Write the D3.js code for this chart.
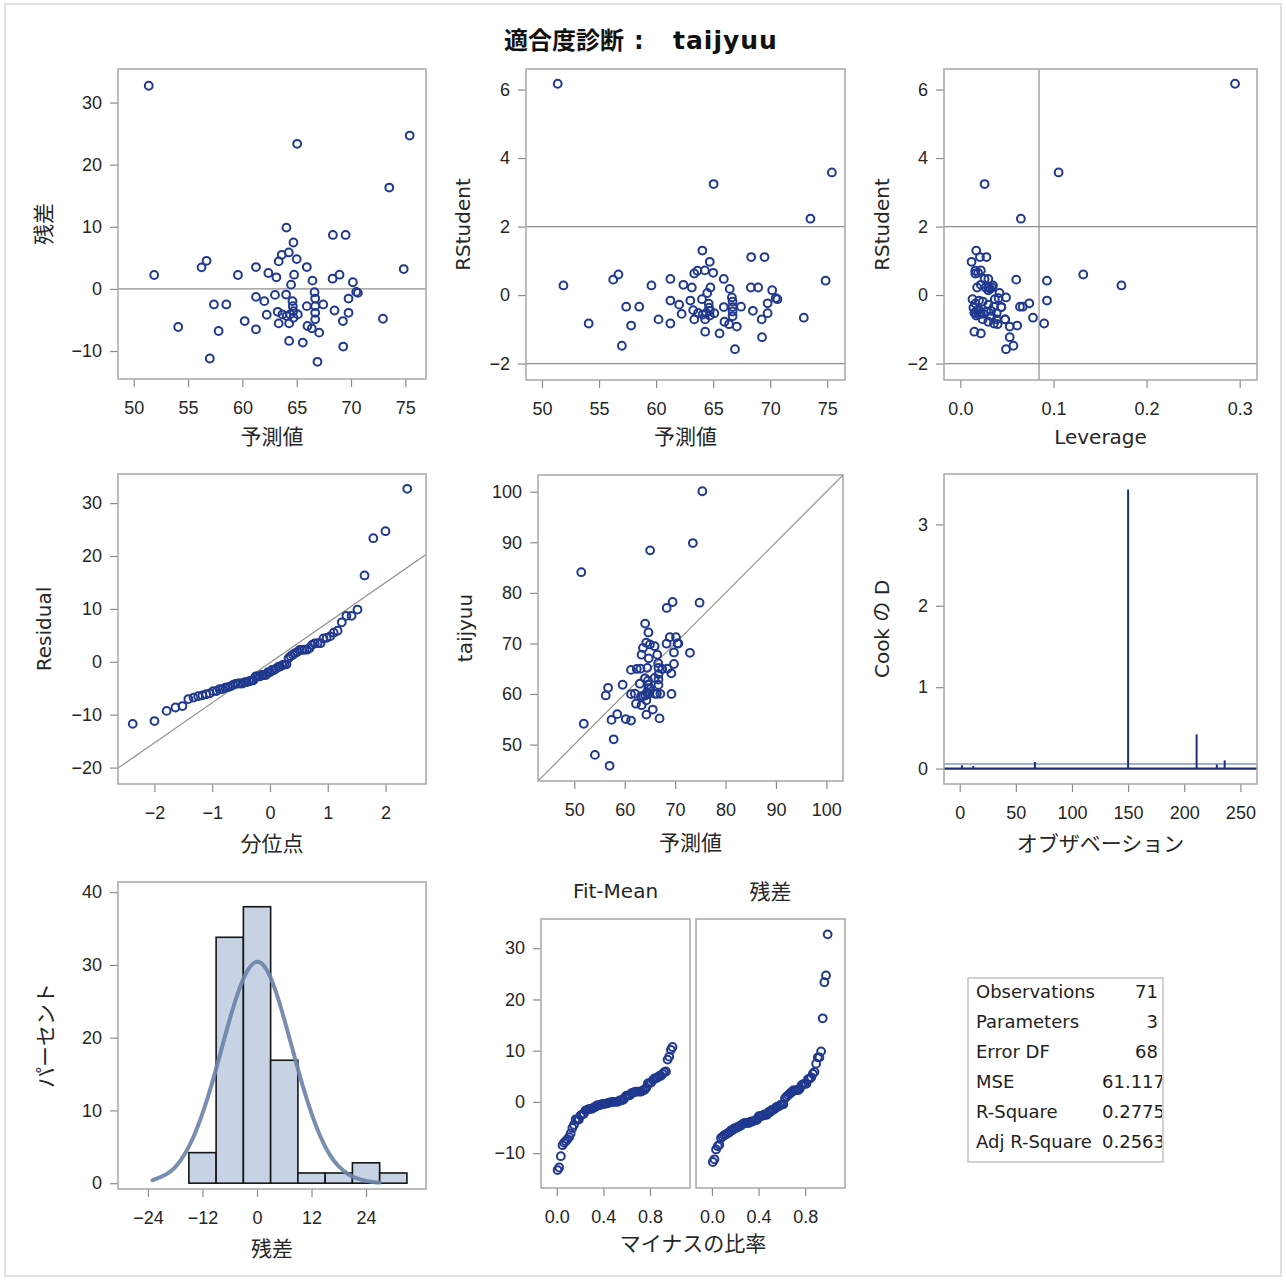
<!DOCTYPE html>
<html>

<head>
    <meta charset="utf-8">
    <style>
        body {
            margin: 0;
            background: #fff;
        }

        svg {
            display: block;
            font-family: 'DejaVu Sans', 'Noto Sans CJK JP', sans-serif;
        }

        .tick text {
            font-size: 18px;
            fill: #262626;
        }

        .tick line {
            stroke: #8c8c8c;
            stroke-width: 1.2;
        }

        .domain {
            display: none;
        }

        .frame {
            fill: none;
            stroke: #a6a6a6;
            stroke-width: 1.5;
        }

        .lab {
            font-size: 20px;
            fill: #262626;
        }

        .jp {
            font-family: 'Noto Sans CJK JP', sans-serif;
            font-size: 21px;
        }

        .pt {
            fill: none;
            stroke: #20398f;
            stroke-width: 2;
        }

        .ref {
            fill: none;
            stroke: #8f8f8f;
            stroke-width: 1.2;
        }
    </style>
</head>

<body>
    <svg width="1286" height="1280"></svg>

    <script src="https://d3js.org/d3.v7.min.js"></script>

    <script>
        let predicted = [51.38, 51.88, 54.09, 56.24, 56.70, 57.38, 58.52, 57.00, 57.81, 59.59,
            60.21, 61.25, 61.25, 61.25, 62.02, 62.24, 62.39, 63.00, 63.13, 63.34,
            63.62, 63.25, 63.34, 63.68, 64.05, 64.02, 64.27, 64.48, 64.30, 64.30,
            64.70, 64.76, 65.00, 65.04, 64.61, 64.64, 64.70, 64.39, 64.08, 64.70,
            65.10, 65.56, 65.93, 65.93, 65.99, 66.45, 66.39, 66.64, 66.70, 66.70,
            66.70, 66.70, 66.91, 67.07, 67.44, 68.33, 68.30, 68.48, 68.94, 69.50,
            69.25, 69.28, 69.77, 69.77, 70.17, 70.48, 70.63, 72.94, 73.52, 74.85, 75.40];

        let residual = [32.7, 2.24, -6.13, 3.47, 4.53, -2.5, -2.5, -11.2, -6.77, 2.24,
            -5.17, 3.52, -1.28, -6.5, -1.97, -4.16, 2.56, -0.96, 1.87, 4.43,
            5.49, -3.68, -5.55, -4.1, 9.87, -0.91, 5.87, 0.69, -8.37, -5.55,
            7.47, 2.29, 4.8, 23.36, -1.97, -2.77, -3.57, -4.1, -4.37, -4.64,
            -4.1, -8.64, 3.52, -2.77, -5.97, 1.33, -6.35, -0.53, -1.55, -2.77,
            -3.84, -4.9, -11.73, -7.04, -2.5, 8.69, 1.65, -3.47, 2.29, 8.69,
            -5.17, -9.28, -1.55, -3.84, 1.07, -0.48, -0.64, -4.8, 16.32, 3.2, 24.69];

        let rstudent = [6.17, 0.28, -0.83, 0.45, 0.60, -0.34, -0.34, -1.48, -0.89, 0.28,
            -0.71, 0.47, -0.16, -0.83, -0.28, -0.55, 0.30, -0.16, 0.22, 0.63,
            0.71, -0.44, -0.71, -0.52, 1.30, -0.12, 0.72, 0.06, -1.07, -0.71,
            0.97, 0.22, 0.65, 3.24, -0.25, -0.37, -0.46, -0.52, -0.57, -0.60,
            -0.53, -1.12, 0.47, -0.35, -0.78, 0.18, -0.85, -0.07, -0.19, -0.35,
            -0.48, -0.62, -1.58, -0.92, -0.34, 1.11, 0.22, -0.46, 0.22, 1.11,
            -0.71, -1.23, -0.24, -0.53, 0.14, -0.09, -0.12, -0.66, 2.23, 0.42, 3.58];

        let leverage = [0.295, 0.173, 0.090, 0.060, 0.132, 0.067, 0.064, 0.057, 0.061, 0.035,
            0.048, 0.030, 0.093, 0.036, 0.030, 0.025, 0.022, 0.020, 0.018, 0.016,
            0.016, 0.020, 0.024, 0.015, 0.017, 0.013, 0.022, 0.042, 0.015, 0.039,
            0.012, 0.027, 0.019, 0.026, 0.016, 0.014, 0.018, 0.016, 0.020, 0.017,
            0.022, 0.022, 0.026, 0.044, 0.030, 0.032, 0.040, 0.049, 0.024, 0.044,
            0.028, 0.033, 0.049, 0.053, 0.036, 0.028, 0.030, 0.033, 0.034, 0.021,
            0.048, 0.053, 0.074, 0.039, 0.030, 0.041, 0.037, 0.078, 0.065, 0.093, 0.1055];

        let rstudentLimits = [-2, 2];
        let leverageCut = 0.0845;

        let qqLineX = [-2.63, 2.70];
        let qqLineY = [-20.1, 20.3];

        let cookObs = [2, 12, 67, 150, 211, 229, 236];
        let cookD = [0.04, 0.03, 0.08, 3.43, 0.42, 0.05, 0.10];
        let cookCut = 0.056;

        let binEdges = [-15, -9, -3, 3, 9, 15, 21, 27, 33];
        let binPercent = [4.2, 33.8, 38.0, 16.9, 1.4, 1.4, 2.8, 1.4];

        let normalX = [-23, -20, -18, -16, -14, -12, -10, -8, -6, -4, -2, 0, 2, 4, 6, 8, 10, 12, 14, 16, 18, 20, 22, 24, 26, 27];
        let normalY = [0.4, 1.1, 2.1, 3.8, 6.2, 9.5, 13.4, 18.0, 22.6, 26.7, 29.6, 30.8, 29.8, 26.8, 22.6, 18.0, 13.4, 9.5, 6.2, 3.8, 2.2, 1.2, 0.6, 0.3, 0.1, 0.08];

        let statLabels = ["Observations", "Parameters", "Error DF", "MSE", "R-Square", "Adj R-Square"];
        let statValues = ["71", "3", "68", "61.117", "0.2775", "0.2563"];

        let svg = d3.select("svg");
        let clipId = 0;

        svg.append("rect")
            .attr("x", 5).attr("y", 4)
            .attr("width", 1276).attr("height", 1272)
            .attr("fill", "none")
            .attr("stroke", "#d6d6d6")
            .attr("stroke-width", 1.5);

        let title = svg.append("text")
            .attr("y", 49)
            .attr("fill", "#111")
            .attr("font-weight", "bold");
        title.append("tspan").attr("x", 504)
            .attr("font-family", "'Noto Sans CJK JP', sans-serif")
            .attr("font-size", "24px")
            .text("適合度診断");
        title.append("tspan").attr("x", 634)
            .attr("font-size", "24px")
            .text(":");
        title.append("tspan").attr("x", 673)
            .attr("font-size", "25px")
            .attr("letter-spacing", "1px")
            .text("taijyuu");

        function label(txt, x, y, rotate) {
            let jp = /[^\x00-\x7f]/.test(txt) && !/^Cook/.test(txt);
            let t = svg.append("text")
                .attr("class", jp ? "lab jp" : "lab")
                .attr("text-anchor", "middle")
                .text(txt);
            if (rotate) {
                t.attr("dominant-baseline", "central")
                    .attr("transform", `translate(${x},${y}) rotate(-90)`);
            } else {
                t.attr("x", x).attr("y", y);
            }
            return t;
        }

        function panel(o) {
            let x = d3.scaleLinear().domain(o.xDom).range([o.x, o.x + o.w]);
            let y = d3.scaleLinear().domain(o.yDom).range([o.y + o.h, o.y]);

            svg.append("g")
                .attr("class", "x axis")
                .attr("transform", `translate(0,${o.y + o.h})`)
                .call(d3.axisBottom(x)
                    .tickValues(o.xTicks)
                    .tickSize(8)
                    .tickPadding(14)
                    .tickFormat(d3.format(o.xFmt || "d")));

            if (o.yTicks) {
                svg.append("g")
                    .attr("class", "y axis")
                    .attr("transform", `translate(${o.x},0)`)
                    .call(d3.axisLeft(y)
                        .tickValues(o.yTicks)
                        .tickSize(8)
                        .tickPadding(8)
                        .tickFormat(d3.format(o.yFmt || "d")));
            }

            let id = "clip" + (clipId++);
            svg.append("clipPath").attr("id", id)
                .append("rect")
                .attr("x", o.x).attr("y", o.y)
                .attr("width", o.w).attr("height", o.h);

            let g = svg.append("g").attr("clip-path", `url(#${id})`);

            svg.append("rect")
                .attr("class", "frame")
                .attr("x", o.x).attr("y", o.y)
                .attr("width", o.w).attr("height", o.h);

            if (o.xLab) label(o.xLab, o.x + o.w / 2, o.xLabY);
            if (o.yLab) label(o.yLab, o.yLabX, o.y + o.h / 2, true);

            return { g, x, y };
        }

        function circles(p, xs, ys) {
            p.g.append("g")
                .selectAll("circle")
                .data(xs.map((d, i) => [d, ys[i]]))
                .join("circle")
                .attr("class", "pt")
                .attr("cx", d => p.x(d[0]))
                .attr("cy", d => p.y(d[1]))
                .attr("r", 3.9);
        }

        function hline(p, v, cls) {
            return p.g.append("line")
                .attr("class", cls || "ref")
                .attr("x1", p.x.range()[0]).attr("x2", p.x.range()[1])
                .attr("y1", p.y(v)).attr("y2", p.y(v));
        }

        // inverse normal cdf (Acklam)
        function probit(p) {
            let a = [-39.69683028665376, 220.9460984245205, -275.9285104469687, 138.357751867269, -30.66479806614716, 2.506628277459239];
            let b = [-54.47609879822406, 161.5858368580409, -155.6989798598866, 66.80131188771972, -13.28068155288572];
            let c = [-0.007784894002430293, -0.3223964580411365, -2.400758277161838, -2.549671010126305, 4.374664141464968, 2.938163982698783];
            let d = [0.007784695709041462, 0.3224671290700398, 2.445134137142996, 3.754408661907416];
            if (p < 0.02425 || p > 0.97575) {
                let q = Math.sqrt(-2 * Math.log(p < 0.5 ? p : 1 - p));
                let v = (((((c[0] * q + c[1]) * q + c[2]) * q + c[3]) * q + c[4]) * q + c[5]) /
                    ((((d[0] * q + d[1]) * q + d[2]) * q + d[3]) * q + 1);
                return p < 0.5 ? v : -v;
            }
            let q = p - 0.5, r = q * q;
            return (((((a[0] * r + a[1]) * r + a[2]) * r + a[3]) * r + a[4]) * r + a[5]) * q /
                (((((b[0] * r + b[1]) * r + b[2]) * r + b[3]) * r + b[4]) * r + 1);
        }

        let n = residual.length;
        let sortedRes = residual.slice().sort(d3.ascending);
        let meanPred = d3.mean(predicted);
        let sortedFit = predicted.map(d => d - meanPred).sort(d3.ascending);
        let blom = sortedRes.map((d, i) => probit((i + 1 - 0.375) / (n + 0.25)));
        let propLess = sortedRes.map((d, i) => (i + 0.5) / n);
        let observed = predicted.map((d, i) => d + residual[i]);

        // row 1
        let p1 = panel({
            x: 118, y: 69, w: 308, h: 310,
            xDom: [48.55, 76.9], yDom: [-14.5, 35.4],
            xTicks: [50, 55, 60, 65, 70, 75], yTicks: [-10, 0, 10, 20, 30],
            xLab: "予測値", xLabY: 444, yLab: "残差", yLabX: 42
        });
        hline(p1, 0);
        circles(p1, predicted, residual);

        let p2 = panel({
            x: 526, y: 69, w: 319, h: 311,
            xDom: [48.6, 76.55], yDom: [-2.48, 6.6],
            xTicks: [50, 55, 60, 65, 70, 75], yTicks: [-2, 0, 2, 4, 6],
            xLab: "予測値", xLabY: 444, yLab: "RStudent", yLabX: 463
        });
        rstudentLimits.forEach(v => hline(p2, v));
        circles(p2, predicted, rstudent);

        let p3 = panel({
            x: 944, y: 69, w: 313, h: 311,
            xDom: [-0.0176, 0.3186], yDom: [-2.48, 6.6],
            xTicks: [0, 0.1, 0.2, 0.3], xFmt: ".1f", yTicks: [-2, 0, 2, 4, 6],
            xLab: "Leverage", xLabY: 444, yLab: "RStudent", yLabX: 882
        });
        rstudentLimits.forEach(v => hline(p3, v));
        p3.g.append("line")
            .attr("class", "ref")
            .attr("x1", p3.x(leverageCut)).attr("x2", p3.x(leverageCut))
            .attr("y1", p3.y.range()[0]).attr("y2", p3.y.range()[1]);
        circles(p3, leverage, rstudent);

        // row 2
        let p4 = panel({
            x: 118, y: 474, w: 308, h: 310,
            xDom: [-2.63, 2.70], yDom: [-23.1, 35.5],
            xTicks: [-2, -1, 0, 1, 2], yTicks: [-20, -10, 0, 10, 20, 30],
            xLab: "分位点", xLabY: 851, yLab: "Residual", yLabX: 44
        });
        p4.g.append("line")
            .attr("class", "ref")
            .attr("x1", p4.x(qqLineX[0])).attr("y1", p4.y(qqLineY[0]))
            .attr("x2", p4.x(qqLineX[1])).attr("y2", p4.y(qqLineY[1]));
        circles(p4, blom, sortedRes);

        let p5 = panel({
            x: 538, y: 475, w: 305, h: 306,
            xDom: [42.8, 103.3], yDom: [42.8, 103.3],
            xTicks: [50, 60, 70, 80, 90, 100], yTicks: [50, 60, 70, 80, 90, 100],
            xLab: "予測値", xLabY: 850, yLab: "taijyuu", yLabX: 465
        });
        p5.g.append("line")
            .attr("class", "ref")
            .attr("x1", p5.x(p5.x.domain()[0])).attr("y1", p5.y(p5.x.domain()[0]))
            .attr("x2", p5.x(p5.x.domain()[1])).attr("y2", p5.y(p5.x.domain()[1]));
        circles(p5, predicted, observed);

        let p6 = panel({
            x: 944, y: 474, w: 313, h: 310,
            xDom: [-14, 264.8], yDom: [-0.19, 3.62],
            xTicks: [0, 50, 100, 150, 200, 250], yTicks: [0, 1, 2, 3],
            xLab: "オブザベーション", xLabY: 851, yLab: "Cook の D", yLabX: 882
        });
        hline(p6, cookCut, "cut").attr("stroke", "#4862c0").attr("stroke-width", 1);
        hline(p6, 0, "base").attr("stroke", "#1d2d78").attr("stroke-width", 2.2);
        p6.g.append("g")
            .selectAll("line")
            .data(cookObs.map((d, i) => [d, cookD[i]]))
            .join("line")
            .attr("x1", d => p6.x(d[0])).attr("x2", d => p6.x(d[0]))
            .attr("y1", p6.y(0)).attr("y2", d => p6.y(d[1]))
            .attr("stroke", "#1d2d78")
            .attr("stroke-width", 2);

        // row 3
        let p7 = panel({
            x: 118, y: 882, w: 308, h: 307,
            xDom: [-30.6, 37.2], yDom: [-0.8, 41.4],
            xTicks: [-24, -12, 0, 12, 24], yTicks: [0, 10, 20, 30, 40],
            xLab: "残差", xLabY: 1256, yLab: "パーセント", yLabX: 44
        });
        p7.g.append("g")
            .selectAll("rect")
            .data(binPercent)
            .join("rect")
            .attr("x", (d, i) => p7.x(binEdges[i]))
            .attr("width", (d, i) => p7.x(binEdges[i + 1]) - p7.x(binEdges[i]))
            .attr("y", d => p7.y(d))
            .attr("height", d => p7.y(0) - p7.y(d))
            .attr("fill", "#c7d3e4")
            .attr("stroke", "#151515")
            .attr("stroke-width", 1.6);
        p7.g.append("path")
            .datum(normalX.map((d, i) => [d, normalY[i]]))
            .attr("d", d3.line().x(d => p7.x(d[0])).y(d => p7.y(d[1])).curve(d3.curveBasis))
            .attr("fill", "none")
            .attr("stroke", "#6b84aa")
            .attr("stroke-opacity", 0.92)
            .attr("stroke-width", 4)
            .attr("stroke-linecap", "round");

        let p8a = panel({
            x: 541, y: 919, w: 149, h: 269,
            xDom: [-0.135, 1.143], yDom: [-16.8, 35.7],
            xTicks: [0, 0.4, 0.8], xFmt: ".1f", yTicks: [-10, 0, 10, 20, 30]
        });
        circles(p8a, propLess, sortedFit);

        let p8b = panel({
            x: 696, y: 919, w: 149, h: 269,
            xDom: [-0.137, 1.142], yDom: [-16.8, 35.7],
            xTicks: [0, 0.4, 0.8], xFmt: ".1f"
        });
        circles(p8b, propLess, sortedRes);

        label("Fit-Mean", 541 + 149 / 2, 898);
        label("残差", 696 + 149 / 2, 899);
        label("マイナスの比率", 693, 1251);

        // fit statistics
        let box = { x: 968, y: 978, w: 195, h: 184 };
        svg.append("rect")
            .attr("x", box.x).attr("y", box.y)
            .attr("width", box.w).attr("height", box.h)
            .attr("fill", "#fff")
            .attr("stroke", "#c4c4c4")
            .attr("stroke-width", 1.5);

        svg.append("clipPath").attr("id", "labclip")
            .append("rect").attr("x", box.x).attr("y", box.y).attr("width", 127).attr("height", box.h);
        svg.append("clipPath").attr("id", "valclip")
            .append("rect").attr("x", box.x + 130).attr("y", box.y).attr("width", box.w - 131).attr("height", box.h);

        svg.append("g")
            .attr("clip-path", "url(#labclip)")
            .selectAll("text")
            .data(statLabels)
            .join("text")
            .attr("x", box.x + 8)
            .attr("y", (d, i) => box.y + 20 + i * 30)
            .attr("font-size", "18px")
            .attr("fill", "#222")
            .text(d => d);

        let vals = svg.append("g")
            .attr("clip-path", "url(#valclip)")
            .selectAll("text")
            .data(statValues)
            .join("text")
            .attr("x", box.x + box.w - 5)
            .attr("y", (d, i) => box.y + 20 + i * 30)
            .attr("font-size", "18px")
            .attr("fill", "#222")
            .attr("text-anchor", "end")
            .text(d => d);

        // long values start at the column edge and get cut on the right
        vals.each(function () {
            if (this.getComputedTextLength() > box.w - 140) {
                d3.select(this).attr("text-anchor", "start").attr("x", box.x + 134);
            }
        });
    </script>
</body>

</html>
